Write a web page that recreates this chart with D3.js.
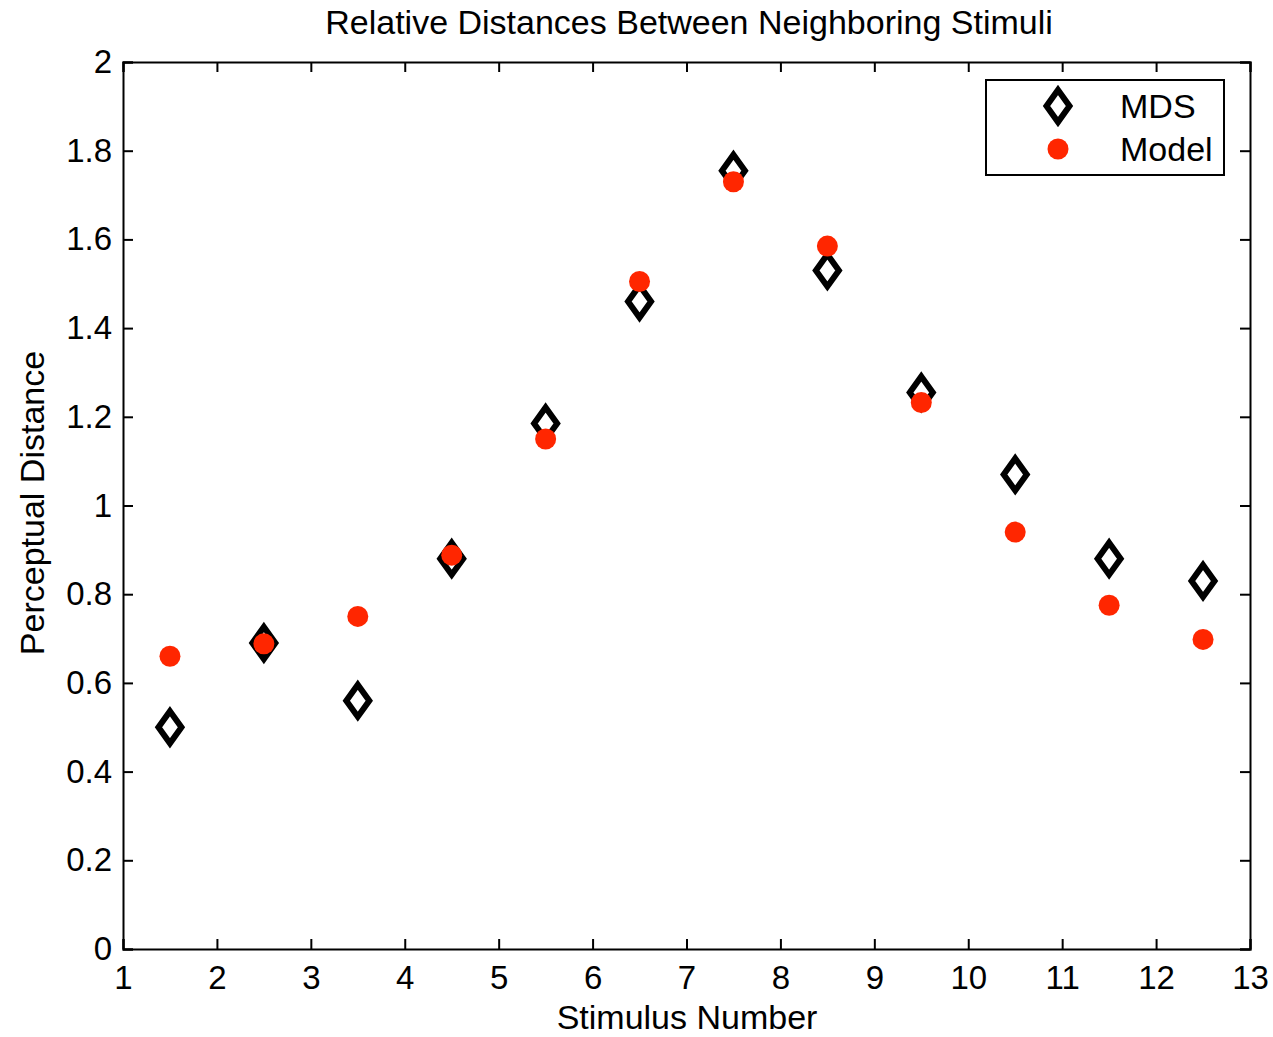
<!DOCTYPE html>
<html>
<head>
<meta charset="utf-8">
<script src="https://cdn.jsdelivr.net/npm/d3@7"></script>
<style>
  body { margin: 0; background: #fff; }
  svg { display: block; font-family: "Liberation Sans", Arial, sans-serif; }
</style>
</head>
<body>
<svg width="1273" height="1037"></svg>
<script>
const stimulus = [1.5, 2.5, 3.5, 4.5, 5.5, 6.5, 7.5, 8.5, 9.5, 10.5, 11.5, 12.5];
const mdsValues = [0.50, 0.69, 0.56, 0.88, 1.185, 1.46, 1.755, 1.53, 1.255, 1.07, 0.88, 0.83];
const modelValues = [0.66, 0.688, 0.75, 0.888, 1.15, 1.505, 1.73, 1.585, 1.232, 0.94, 0.775, 0.698];
const xTicks = d3.range(1, 14);
const yTicks = [0, 0.2, 0.4, 0.6, 0.8, 1, 1.2, 1.4, 1.6, 1.8, 2];

const svg = d3.select("svg");
const plotLeft = 123, plotRight = 1250, plotTop = 62, plotBottom = 949;

const x = d3.scaleLinear().domain([1, 13]).range([plotLeft, plotRight]);
const y = d3.scaleLinear().domain([0, 2]).range([plotBottom, plotTop]);

const tickLen = 10;
const fontSize = 34;

// axes: ticks point inward, mirrored on top and right
svg.append("g")
  .attr("transform", `translate(0,${plotBottom})`)
  .call(d3.axisBottom(x).tickValues(xTicks).tickSize(-tickLen).tickPadding(17).tickFormat(d3.format("d")))
  .call(g => g.selectAll("text").attr("dy", "0.71em"));
svg.append("g")
  .attr("transform", `translate(0,${plotTop})`)
  .call(d3.axisTop(x).tickValues(xTicks).tickSize(-tickLen).tickFormat(""));
svg.append("g")
  .attr("transform", `translate(${plotLeft},0)`)
  .call(d3.axisLeft(y).tickValues(yTicks).tickSize(-tickLen).tickPadding(11).tickFormat(d => String(d)));
svg.append("g")
  .attr("transform", `translate(${plotRight},0)`)
  .call(d3.axisRight(y).tickValues(yTicks).tickSize(-tickLen).tickFormat(""));

svg.selectAll(".domain").attr("stroke", "#000").attr("stroke-width", 2);
svg.selectAll(".tick line").attr("stroke", "#000").attr("stroke-width", 2);
svg.selectAll(".tick text").attr("font-size", 33).attr("fill", "#000")
  .attr("font-family", "'Liberation Sans', Arial, sans-serif");

// diamond marker
function diamond(cx, cy, w, h) {
  return `M${cx},${cy - h}L${cx + w},${cy}L${cx},${cy + h}L${cx - w},${cy}Z`;
}

svg.append("g").selectAll("path")
  .data(stimulus)
  .join("path")
  .attr("d", (d, i) => diamond(x(d), y(mdsValues[i]), 11.5, 16))
  .attr("fill", "#fff")
  .attr("stroke", "#000")
  .attr("stroke-width", 6)
  .attr("stroke-linejoin", "miter");

svg.append("g").selectAll("circle")
  .data(stimulus)
  .join("circle")
  .attr("cx", d => x(d))
  .attr("cy", (d, i) => y(modelValues[i]))
  .attr("r", 10.5)
  .attr("fill", "#ff2600");

// title and labels
svg.append("text")
  .attr("x", 689).attr("y", 34)
  .attr("text-anchor", "middle")
  .attr("font-size", fontSize)
  .text("Relative Distances Between Neighboring Stimuli");

svg.append("text")
  .attr("x", 687).attr("y", 1029)
  .attr("text-anchor", "middle")
  .attr("font-size", fontSize)
  .text("Stimulus Number");

svg.append("text")
  .attr("transform", `translate(44,503) rotate(-90)`)
  .attr("text-anchor", "middle")
  .attr("font-size", fontSize)
  .text("Perceptual Distance");

// legend
const legend = svg.append("g");
legend.append("rect")
  .attr("x", 986).attr("y", 80)
  .attr("width", 238).attr("height", 95)
  .attr("fill", "#fff").attr("stroke", "#000").attr("stroke-width", 2);
legend.append("path")
  .attr("d", diamond(1058, 106, 11.5, 16))
  .attr("fill", "#fff").attr("stroke", "#000").attr("stroke-width", 6);
legend.append("circle")
  .attr("cx", 1058).attr("cy", 149).attr("r", 10.5).attr("fill", "#ff2600");
legend.append("text")
  .attr("x", 1120).attr("y", 118)
  .attr("font-size", fontSize).text("MDS");
legend.append("text")
  .attr("x", 1120).attr("y", 161)
  .attr("font-size", fontSize).text("Model");
</script>
</body>
</html>
